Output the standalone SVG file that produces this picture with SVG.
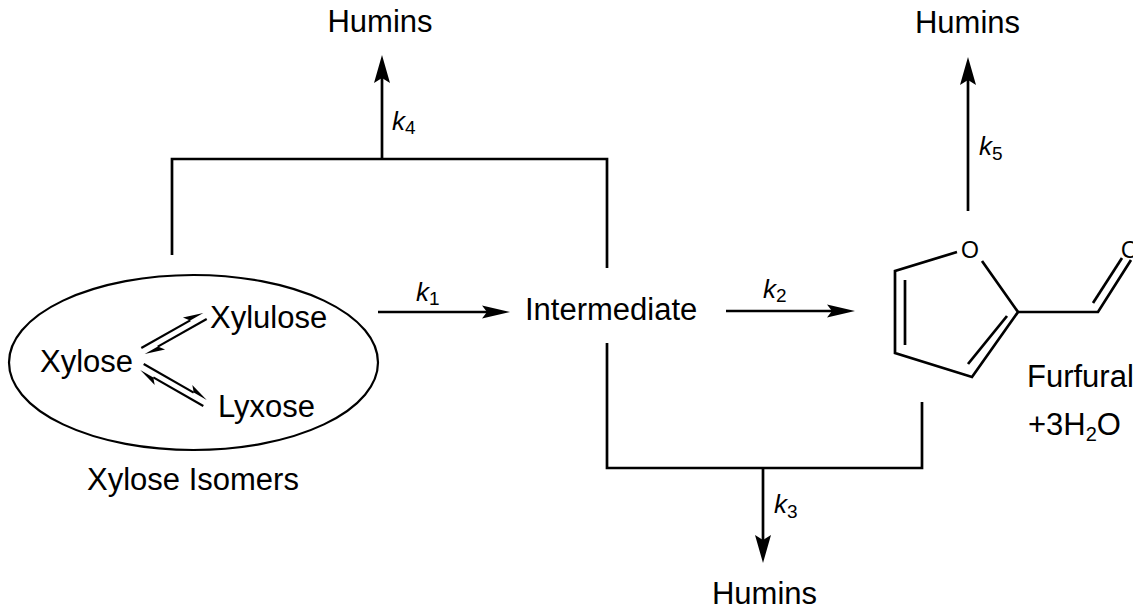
<svg xmlns="http://www.w3.org/2000/svg" width="1133" height="611" viewBox="0 0 1133 611">
<style>
  .t { font-family: "Liberation Sans", Arial, sans-serif; font-size: 31px; fill: #000; }
  .k { font-family: "Liberation Sans", Arial, sans-serif; font-size: 26px; font-style: italic; fill: #000; }
  .sub { font-style: normal; font-size: 19px; }
  .o { font-family: "Liberation Sans", Arial, sans-serif; font-size: 23px; fill: #000; }
  .ln { fill: none; stroke: #000; stroke-width: 2.7; stroke-linecap: butt; stroke-linejoin: miter; }
  .thin { fill: none; stroke: #000; stroke-width: 2.2; }
  .head { fill: #000; stroke: none; }
</style>
<rect width="1133" height="611" fill="#fff"/>

<g id="connectors">
  <!-- top bracket and k4 arrow -->
  <polyline class="ln" points="172,255 172,159 607,159 607,268"/>
  <line class="ln" x1="382" y1="159" x2="382" y2="78"/>
  <polygon class="head" points="382,55 374,83 382,78 390,83"/>
  <!-- bottom bracket and k3 arrow -->
  <polyline class="ln" points="607,343 607,468 922,468 922,402"/>
  <line class="ln" x1="763" y1="468" x2="763" y2="540"/>
  <polygon class="head" points="763,563 755,535 763,540 771,535"/>
  <!-- k1 arrow -->
  <line class="ln" x1="378" y1="312" x2="488" y2="312"/>
  <polygon class="head" points="510,312 482,305.5 487,312 482,318.5"/>
  <!-- k2 arrow -->
  <line class="ln" x1="726" y1="311" x2="832" y2="311"/>
  <polygon class="head" points="855,311 827,304.5 832,311 827,317.5"/>
  <!-- k5 arrow -->
  <line class="ln" x1="968" y1="211" x2="968" y2="80"/>
  <polygon class="head" points="968,57 960,85 968,80 976,85"/>
</g>

<g id="labels">
  <text class="k" x="416" y="301">k<tspan class="sub" dy="4">1</tspan></text>
  <text class="k" x="763" y="298">k<tspan class="sub" dy="4">2</tspan></text>
  <text class="k" x="774" y="513">k<tspan class="sub" dy="5">3</tspan></text>
  <text class="k" x="392" y="130">k<tspan class="sub" dy="4">4</tspan></text>
  <text class="k" x="979" y="155">k<tspan class="sub" dy="5">5</tspan></text>
</g>

<g id="humins-top-left"><text class="t" x="380" y="32" text-anchor="middle">Humins</text></g>
<g id="humins-top-right"><text class="t" x="967.5" y="33" text-anchor="middle">Humins</text></g>
<g id="humins-bottom"><text class="t" x="764.5" y="604" text-anchor="middle">Humins</text></g>
<g id="intermediate"><text class="t" x="525" y="320">Intermediate</text></g>

<g id="xylose-isomers">
  <ellipse class="thin" cx="193.5" cy="362.5" rx="184.5" ry="87.5"/>
  <text class="t" x="40" y="372">Xylose</text>
  <text class="t" x="210" y="328">Xylulose</text>
  <text class="t" x="218" y="417">Lyxose</text>
  <g id="equilibria">
    <line class="thin" x1="141.3" y1="348" x2="190.2" y2="320.4"/>
    <polygon class="head" points="203.3,313 182.9,317.6 190.2,320.4"/>
    <line class="thin" x1="157.8" y1="346.6" x2="206.7" y2="319"/>
    <polygon class="head" points="144.7,354 165.1,349.4 157.8,346.6"/>
    <line class="thin" x1="143.7" y1="364" x2="193.7" y2="392.6"/>
    <polygon class="head" points="206.7,400 192.3,384.9 193.7,392.6"/>
    <line class="thin" x1="153.3" y1="377.4" x2="203.3" y2="406"/>
    <polygon class="head" points="140.3,370 154.7,385.1 153.3,377.4"/>
  </g>
  <text class="t" x="87" y="490">Xylose Isomers</text>
</g>

<g id="furfural">
  <polyline class="ln" points="957,252 895,271 895,353 972,377 1018,312 982,261"/>
  <line class="ln" x1="905" y1="280" x2="905" y2="345"/>
  <line class="ln" x1="1007" y1="316" x2="968" y2="364"/>
  <polyline class="ln" points="1018,312 1098,312 1131,260"/>
  <line class="ln" x1="1093" y1="303" x2="1122" y2="258"/>
  <text class="o" x="970" y="258" text-anchor="middle">O</text>
  <text class="o" x="1121" y="258">O</text>
  <text class="t" x="1027" y="387">Furfural</text>
  <text class="t" x="1028" y="435">+3H<tspan font-size="20" dy="6">2</tspan><tspan dy="-6">O</tspan></text>
</g>
</svg>
